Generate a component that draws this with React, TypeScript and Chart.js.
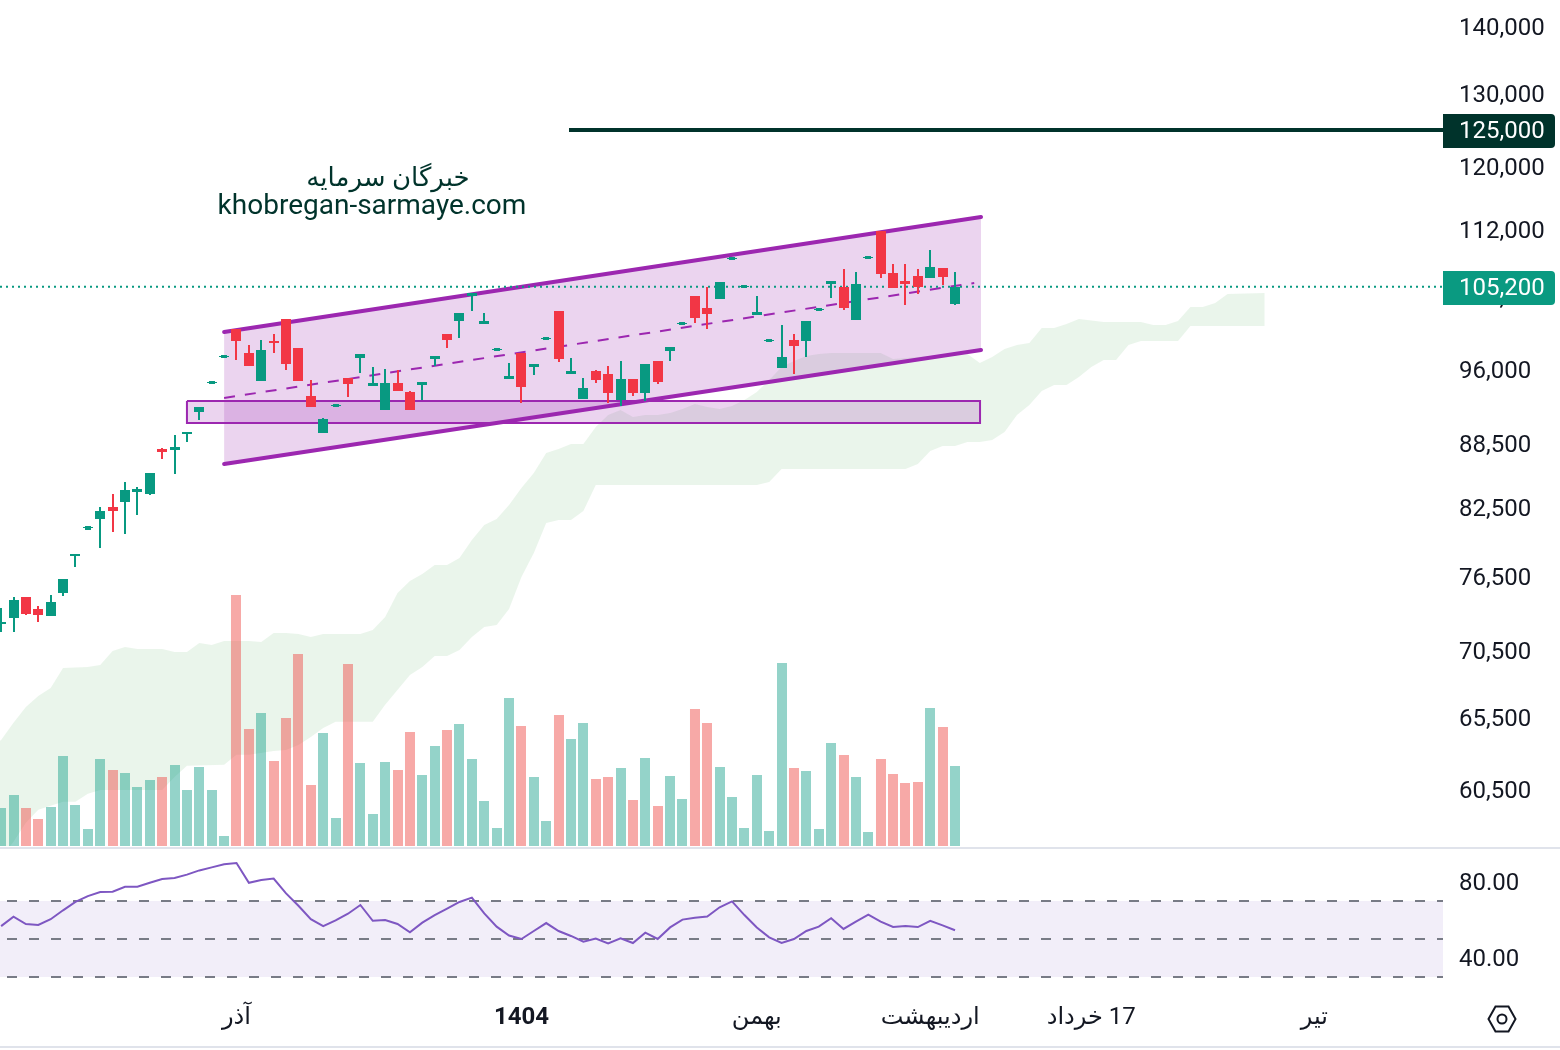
import { Chart, registerables, ChartConfiguration } from "chart.js";
import React, { useEffect, useRef } from "react";

Chart.register(...registerables);

// daily candles, index 0 is the first bar at the left edge
const opens = [
  72610, 73090, 74800, 73820, 73250, 75130, 78250, 80660, 81500, 82580,
  83040, 83960, 83770, 88020, 87930, 89490, 91680, 94660, 97400, 100440,
  97820, 94860, 99120, 101550, 98360, 93300, 89590, 92290, 95170, 97290,
  94340, 91880, 94650, 93720, 94440, 97180, 99890, 101330, 104150, 101000,
  98150, 95070, 97820, 96330, 99340, 102450, 95600, 93000, 95910, 95600,
  92900, 95070, 93620, 96970, 98040, 101020, 104150, 102790, 103810, 108480,
  105190, 102000, 99120, 96220, 99230, 99120, 102560, 105540, 105190, 101440,
  108590, 111870, 106820, 105890, 106470, 106240, 107410, 103240,
];
const highs = [
  73900, 74800, 74800, 74060, 74960, 76290, 78420, 80880, 82580, 83770,
  84880, 84420, 85730, 88120, 89390, 89680, 92180, 94860, 97610, 100440,
  98690, 99230, 99890, 101550, 98360, 94960, 91080, 92490, 95170, 97720,
  96330, 96120, 96010, 93820, 94760, 97500, 99890, 102220, 104500, 102220,
  98360, 96750, 97820, 96650, 99560, 102450, 97290, 95170, 96010, 96430,
  96970, 95070, 96650, 96970, 98470, 101220, 104150, 105190, 105770, 108680,
  105420, 104150, 99340, 100890, 99890, 101330, 102790, 105890, 107290, 106940,
  108800, 111870, 107880, 107880, 107290, 109560, 107410, 106940,
];
const lows = [
  71970, 71970, 73330, 72770, 73250, 74880, 77310, 80520, 78940, 80340,
  80160, 81860, 83680, 87060, 85640, 88700, 90880, 94550, 97290, 97070,
  96430, 94860, 97820, 96010, 94860, 92180, 89590, 92180, 93200, 95700,
  94340, 91880, 93820, 91880, 92900, 96430, 98360, 99450, 102450, 101000,
  98040, 95070, 92590, 95490, 99230, 96860, 95600, 93000, 94650, 92590,
  92280, 93300, 92790, 94550, 96970, 100890, 101110, 100440, 103810, 108360,
  105070, 102000, 99010, 96220, 95600, 97400, 102450, 103920, 102560, 101440,
  108480, 106240, 105070, 103130, 104390, 106240, 105420, 103130,
];
const closes = [
  72770, 74550, 73410, 73330, 74390, 76290, 78420, 80740, 82220, 82220,
  84140, 84230, 85730, 87730, 88220, 89680, 92180, 94760, 97500, 99120,
  96430, 98150, 98900, 96650, 94860, 92180, 90980, 92380, 94550, 97720,
  94650, 94650, 93820, 91880, 94760, 97500, 99230, 102220, 104500, 101330,
  98250, 95380, 94240, 96650, 99450, 97180, 95910, 94130, 94960, 93620,
  95070, 93620, 96650, 94760, 98470, 101110, 101660, 102110, 105770, 108570,
  105300, 102340, 99230, 97400, 98580, 101330, 102680, 105890, 102790, 105540,
  108690, 106710, 105070, 105540, 105190, 107530, 106350, 105200,
];
const volumes = [
  19, 25.5, 19, 13.5, 19.5, 45, 20.5, 8.5, 43.5, 38,
  36.5, 29.5, 33, 34.5, 40.5, 28, 39.5, 28, 5, 125.5,
  58.5, 66.5, 42.5, 64, 96, 30.5, 56.5, 14, 91, 41.5,
  16, 42, 38, 57, 35.5, 50, 58, 61, 43.5, 22.5,
  9, 74, 60, 34.5, 12.5, 65.5, 53.5, 61.5, 33.5, 34.5,
  39, 23, 44, 20, 35, 23.5, 68.5, 61.5, 39.5, 24.5,
  9, 35.5, 7.5, 91.5, 39, 37.5, 8.5, 51.5, 45.5, 34.5,
  7, 43.5, 36, 31.5, 32, 69, 59.5, 40,
];
const rsiValues = [
  56.8, 61.8, 57.9, 57.4, 60.4, 65.1, 69.5, 72.6, 74.7, 74.9,
  77.5, 77.5, 79.6, 81.6, 82.1, 83.9, 86.1, 87.7, 89.3, 90.0,
  79.6, 81.1, 81.8, 74.0, 67.5, 60.4, 56.8, 59.8, 63.3, 67.9,
  59.6, 60.0, 57.9, 53.5, 58.6, 62.6, 66.0, 69.5, 71.8, 63.5,
  56.5, 51.8, 50.0, 54.2, 58.4, 54.2, 51.6, 48.6, 50.2, 47.7,
  50.4, 47.9, 53.3, 50.0, 56.1, 60.2, 61.2, 61.8, 66.7, 69.8,
  62.6, 56.1, 50.9, 47.9, 50.0, 54.2, 56.5, 60.9, 55.3, 59.1,
  62.8, 59.1, 56.3, 56.8, 56.3, 59.6, 57.2, 54.6,
];

// ichimoku cloud edges as [bar index, price]
const cloudUpper = [
  [-1, 63300], [0, 63920], [1, 65130], [2, 66280], [3, 67090], [4, 67680], [5, 69180], [7, 69260], [8, 69410],
  [9, 70490], [10, 70800], [11, 70640], [13, 70640], [14, 70410], [15, 70410], [16, 71110], [17, 70950],
  [18, 71260], [20, 71260], [21, 71190], [22, 71900], [23, 71900], [24, 71820], [25, 71580], [26, 71820],
  [29, 71820], [30, 72130], [31, 73170], [32, 75130], [33, 76130], [34, 76710], [35, 77480], [36, 77480],
  [37, 78080], [38, 79640], [39, 80960], [40, 81500], [41, 82760], [42, 84320], [43, 85730], [44, 87640],
  [45, 88020], [46, 88500], [47, 88500], [48, 90180], [49, 91380], [50, 91880], [51, 91180], [52, 91380],
  [53, 91380], [54, 91580], [55, 91980], [56, 92490], [57, 92180], [58, 91980], [59, 92280], [60, 92900],
  [61, 93720], [62, 94960], [63, 96330], [64, 96970], [65, 97500], [66, 97720], [67, 97820], [71, 97820],
  [72, 97180], [75, 97500], [78, 97720], [79, 96760], [80, 97400], [81, 98250], [82, 98690], [83, 98900],
  [84, 100550], [85, 100550], [86, 101000], [87, 101550], [89, 101220], [92, 101220], [93, 100890], [94, 100890],
  [95, 101330], [96, 102900], [97, 102900], [98, 103350], [99, 104390], [102, 104500],
];
const cloudLower = [
  [-1, 55500], [0, 56150], [1, 57150], [2, 58350], [3, 59190], [4, 59450], [5, 59710], [6, 59710], [7, 60240],
  [8, 60500], [13, 60500], [14, 61370], [15, 62120], [18, 62190], [19, 62880], [20, 62880], [22, 63150],
  [23, 63220], [24, 63570], [25, 64130], [26, 64770], [27, 65200], [30, 65200], [31, 66430], [33, 68650],
  [34, 69260], [35, 70100], [36, 70100], [37, 70560], [38, 71580], [39, 72370], [40, 72530], [41, 73820],
  [42, 76460], [43, 78510], [44, 81140], [45, 81410], [46, 81410], [47, 82220], [48, 84600], [61, 84600],
  [62, 84880], [63, 86110], [73, 86110], [74, 86580], [75, 87830], [76, 88310], [77, 88310], [78, 88700],
  [79, 88700], [80, 88900], [81, 89690], [82, 91380], [83, 92390], [84, 93820], [85, 94440], [86, 94440],
  [87, 95280], [88, 96330], [89, 97070], [90, 97070], [91, 98690], [92, 99120], [95, 99120], [96, 100780],
  [102, 100780],
];

// drawn by hand on the chart: [bar index, price]
const channelTop = [[18, 100110], [79.1, 113610]];
const channelMiddle = [[18, 93100], [78.55, 105650]];
const channelBottom = [[18, 86580], [79.1, 98150]];
const zoneX = [15, 79.02];
const zonePrices = [92790, 90570];
const targetStart = 45.84;
const targetPrice = 125000;
const lastPrice = 105200;

const priceTicks = [60500, 65500, 70500, 76500, 82500, 88500, 96000, 104000, 112000, 120000, 125000, 130000, 140000];
const rsiTicks = [40, 80];
const rsiLevels = [70, 50, 30];
const timeTicks = [19, 42, 61, 75, 88, 106];
const timeLabels = ["آذر", "1404", "بهمن", "اردیبهشت", "\u200F17 خرداد", "تیر"];

const GREEN = "#089981";
const RED = "#F23645";
const PURPLE = "#9C27B0";
const DARK = "#00332B";
const TEXT = "#131722";
const FONT = 'Roboto, "DejaVu Sans", sans-serif';

const xMin = -0.09;
const xMax = 116.39;
const barStep = 12.388;

const pairs = (rows: number[][]) => rows.map(([x, y]) => ({ x, y }));
const flat = (y: number) => [{ x: xMin, y }, { x: xMax, y }];
const lineBase = { type: "line", pointRadius: 0, tension: 0, fill: false };

// the right axis must not eat into the pane above and below its labels
const fitRightAxis = (s: any) => {
  s.width = 117;
  s.paddingTop = 0;
  s.paddingBottom = 0;
};

// keep bars on whole pixels, like the trading chart does
const snapBars = {
  id: "snapBars",
  afterDatasetsUpdate(chart: any) {
    chart.getSortedVisibleDatasetMetas().forEach((meta: any) => {
      if (meta.type !== "bar") return;
      meta.data.forEach((el: any) => {
        if (el.skip || el.y == null || isNaN(el.y)) return;
        el.x = Math.round(el.x);
        el.y = Math.round(el.y);
        el.base = Math.round(el.base);
        if (el.base === el.y) el.base = el.y + 1;
      });
    });
  },
};

const priceTags = {
  id: "priceTags",
  afterDraw(chart: any) {
    const { ctx, scales } = chart;
    const tags = [
      { value: targetPrice, color: DARK },
      { value: lastPrice, color: "#0A9A81" },
    ];
    ctx.save();
    for (const tag of tags) {
      const y = Math.round(scales.y.getPixelForValue(tag.value));
      ctx.fillStyle = tag.color;
      ctx.beginPath();
      ctx.roundRect(1443, y - 16, 112, 34, [0, 4, 4, 0]);
      ctx.fill();
      ctx.fillStyle = "#fff";
      ctx.font = `24px ${FONT}`;
      ctx.textBaseline = "middle";
      ctx.fillText(tag.value.toLocaleString("en-US"), 1459, y + 2);
    }
    ctx.restore();
  },
};

function priceConfig(): ChartConfiguration {
  const bars = opens.map((_, i) => i);
  const isUp = (i: number) => closes[i] >= opens[i];
  const dojis = bars.filter(i => highs[i] / lows[i] < 1.006);
  return {
    type: "bar",
    data: {
      datasets: [
        {
          ...lineBase, data: pairs(cloudUpper), borderWidth: 0, order: 100,
          fill: "+1", backgroundColor: "rgba(67,160,71,0.11)",
        },
        { ...lineBase, data: pairs(cloudLower), borderWidth: 0, order: 101 },
        {
          type: "bar", data: bars.map(i => ({ x: i, y: volumes[i] })), yAxisID: "yVolume",
          backgroundColor: bars.map(i => isUp(i) ? "rgba(8,153,129,0.43)" : "rgba(239,83,80,0.5)"),
          grouped: false, barPercentage: 10 / barStep, categoryPercentage: 1, order: 90,
        },
        {
          ...lineBase, data: pairs(channelTop), borderColor: PURPLE, borderWidth: 4,
          borderCapStyle: "round", fill: "+1", backgroundColor: "rgba(156,39,176,0.2)", order: 60,
        },
        {
          ...lineBase, data: pairs(channelBottom), borderColor: PURPLE, borderWidth: 4,
          borderCapStyle: "round", order: 59,
        },
        {
          ...lineBase, data: [{ x: zoneX[0], y: zonePrices[0] }, { x: zoneX[1], y: zonePrices[0] }],
          borderWidth: 0, fill: "+1", backgroundColor: "rgba(156,39,176,0.2)", order: 58,
        },
        { ...lineBase, data: [{ x: zoneX[0], y: zonePrices[1] }, { x: zoneX[1], y: zonePrices[1] }], borderWidth: 0, order: 57 },
        {
          ...lineBase,
          data: [
            { x: zoneX[0], y: zonePrices[0] }, { x: zoneX[1], y: zonePrices[0] },
            { x: zoneX[1], y: zonePrices[1] }, { x: zoneX[0], y: zonePrices[1] },
            { x: zoneX[0], y: zonePrices[0] },
          ],
          borderColor: PURPLE, borderWidth: 2, order: 56,
        },
        {
          ...lineBase, data: pairs(channelMiddle), borderColor: PURPLE, borderWidth: 2,
          borderDash: [11, 10], order: 55,
        },
        { ...lineBase, data: flat(lastPrice), borderColor: GREEN, borderWidth: 2, borderDash: [2, 4], order: 50 },
        {
          ...lineBase, data: [{ x: targetStart, y: targetPrice }, { x: xMax, y: targetPrice }],
          borderColor: DARK, borderWidth: 4, order: 49,
        },
        {
          type: "bar", data: bars.map(i => ({ x: i, y: [lows[i], highs[i]] })),
          backgroundColor: bars.map(i => isUp(i) ? GREEN : RED),
          grouped: false, barPercentage: 2 / barStep, categoryPercentage: 1, order: 12,
        },
        {
          type: "bar", data: bars.map(i => ({ x: i, y: [opens[i], closes[i]] })),
          backgroundColor: bars.map(i => isUp(i) ? GREEN : RED),
          grouped: false, barPercentage: 10 / barStep, categoryPercentage: 1, order: 11,
        },
        {
          type: "bar", data: dojis.map(i => ({ x: i, y: [lows[i], highs[i]] })),
          backgroundColor: GREEN,
          grouped: false, barPercentage: 6 / barStep, categoryPercentage: 1, order: 10,
        },
      ] as any,
    },
    options: {
      responsive: false,
      animation: false,
      events: [],
      layout: { autoPadding: false, padding: { bottom: 1 } },
      scales: {
        x: { type: "linear", min: xMin, max: xMax, display: false, offset: false },
        y: {
          type: "logarithmic",
          position: "right",
          min: 56880,
          max: 144220,
          grid: { display: false, drawTicks: false },
          border: { display: false },
          afterBuildTicks: (s: any) => { s.ticks = priceTicks.map(value => ({ value })); },
          afterFit: fitRightAxis,
          ticks: {
            autoSkip: false,
            padding: 16,
            labelOffset: 2,
            color: TEXT,
            font: { family: FONT, size: 24 },
            callback: (v: any) => Number(v).toLocaleString("en-US"),
          },
        },
        yVolume: { type: "linear", display: false, min: 0, max: 423 },
      },
      plugins: { legend: { display: false }, tooltip: { enabled: false } },
    } as any,
    plugins: [snapBars, priceTags],
  };
}

function rsiConfig(): ChartConfiguration {
  const dashLine = { ...lineBase, borderColor: "#787B86", borderWidth: 2, borderDash: [10, 12], borderDashOffset: 15 };
  return {
    type: "line",
    data: {
      datasets: [
        { ...lineBase, data: flat(rsiLevels[0]), borderWidth: 0, fill: "+1", backgroundColor: "rgba(126,87,194,0.1)", order: 20 },
        { ...lineBase, data: flat(rsiLevels[2]), borderWidth: 0, order: 21 },
        ...rsiLevels.map(level => ({ ...dashLine, data: flat(level), order: 10 })),
        { ...lineBase, data: rsiValues.map((y, x) => ({ x, y })), borderColor: "#7E57C2", borderWidth: 2, order: 1 },
      ] as any,
    },
    options: {
      responsive: false,
      animation: false,
      events: [],
      layout: { autoPadding: false },
      scales: {
        x: {
          type: "linear",
          min: xMin,
          max: xMax,
          grid: { display: false, drawTicks: false },
          border: { display: false },
          afterBuildTicks: (s: any) => { s.ticks = timeTicks.map(value => ({ value })); },
          afterFit: (s: any) => { s.height = 65; },
          ticks: {
            autoSkip: false,
            maxRotation: 0,
            padding: 19,
            color: TEXT,
            font: (c: any) => ({ family: FONT, size: 24, weight: c.tick?.value === 42 ? "bold" : "normal" }),
            callback: (v: any) => timeLabels[timeTicks.indexOf(Number(v))],
          },
        },
        y: {
          type: "linear",
          position: "right",
          min: 25.79,
          max: 97.37,
          grid: { display: false, drawTicks: false },
          border: { display: false },
          afterBuildTicks: (s: any) => { s.ticks = rsiTicks.map(value => ({ value })); },
          afterFit: fitRightAxis,
          ticks: {
            autoSkip: false,
            padding: 16,
            labelOffset: 2,
            color: TEXT,
            font: { family: FONT, size: 24 },
            callback: (v: any) => Number(v).toFixed(2),
          },
        },
      },
      plugins: { legend: { display: false }, tooltip: { enabled: false } },
    } as any,
  };
}

const Watermark = ({ text, cx, cy, size }: { text: string, cx: number, cy: number, size: number }) => (
  <div style={{
    position: "absolute", left: cx - 300, top: cy - 20, width: 600, height: 40,
    lineHeight: "40px", textAlign: "center", whiteSpace: "nowrap",
    color: DARK, fontFamily: FONT, fontSize: size,
  }}>{text}</div>
);

export default function App() {
  const priceCanvas = useRef<HTMLCanvasElement>(null);
  const rsiCanvas = useRef<HTMLCanvasElement>(null);

  useEffect(() => {
    document.body.style.margin = "0";
    const price = new Chart(priceCanvas.current!, priceConfig());
    const rsi = new Chart(rsiCanvas.current!, rsiConfig());
    return () => {
      price.destroy();
      rsi.destroy();
    };
  }, []);

  return (
    <div style={{ position: "relative", width: 1560, height: 1050, background: "#fff", overflow: "hidden" }}>
      <canvas ref={priceCanvas} width={1560} height={847}
        style={{ position: "absolute", left: 0, top: 0 }} />
      <div style={{ position: "absolute", left: 0, top: 847, width: 1560, height: 2, background: "#E0E3EB" }} />
      <canvas ref={rsiCanvas} width={1560} height={201}
        style={{ position: "absolute", left: 0, top: 849 }} />
      <div style={{ position: "absolute", left: 0, top: 1046, width: 1560, height: 2, background: "#E0E3EB" }} />
      <Watermark text="خبرگان سرمایه" cx={388} cy={177} size={26} />
      <Watermark text="khobregan-sarmaye.com" cx={372} cy={205} size={28} />
      <svg width="32" height="30" viewBox="0 0 32 30"
        style={{ position: "absolute", left: 1486, top: 1004 }}>
        <path d="M9.5 2.5 H22.5 L29.5 15 L22.5 27.5 H9.5 L2.5 15 Z" fill="none" stroke={TEXT} strokeWidth="2" />
        <circle cx="16" cy="15" r="4.5" fill="none" stroke={TEXT} strokeWidth="2" />
      </svg>
    </div>
  );
}
